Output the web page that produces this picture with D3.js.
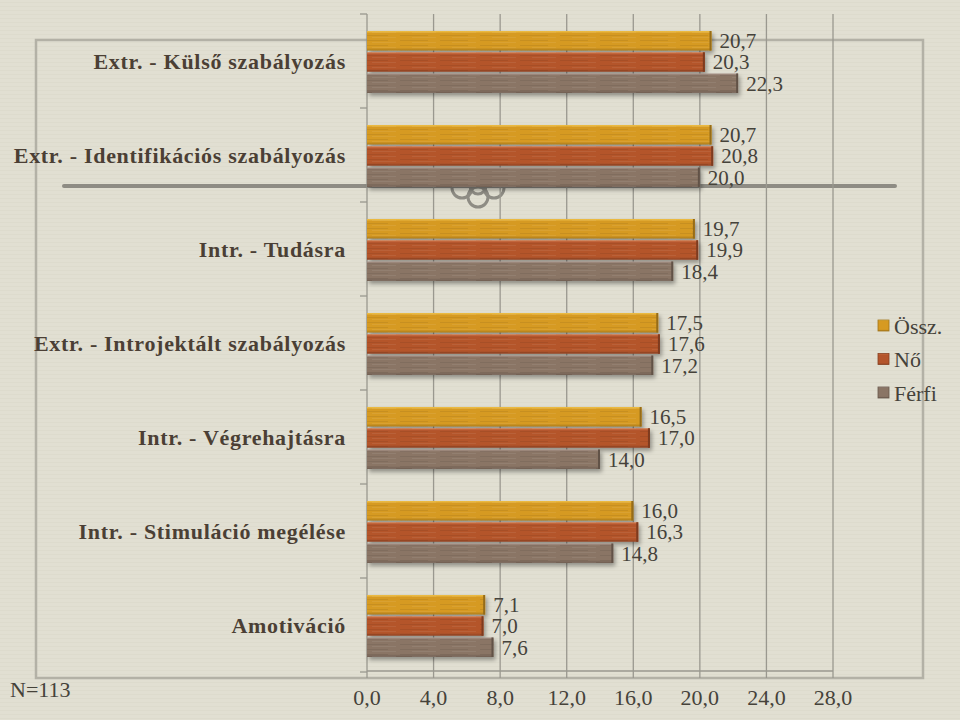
<!DOCTYPE html>
<html>
<head>
<meta charset="utf-8">
<script src="https://cdn.jsdelivr.net/npm/d3@7"></script>
<style>
  html, body { margin: 0; padding: 0; background: #e1dfd2; }
  svg { display: block; }
</style>
</head>
<body>
<svg id="chart" width="960" height="720"></svg>
<script>
// ---- Data ----
const categories = [
  "Extr. - Külső szabályozás",
  "Extr. - Identifikációs szabályozás",
  "Intr. - Tudásra",
  "Extr. - Introjektált szabályozás",
  "Intr. - Végrehajtásra",
  "Intr. - Stimuláció megélése",
  "Amotiváció"
];
const seriesNames = ["Össz.", "Nő", "Férfi"];
const osszValues  = [20.7, 20.7, 19.7, 17.5, 16.5, 16.0, 7.1];
const noValues    = [20.3, 20.8, 19.9, 17.6, 17.0, 16.3, 7.0];
const ferfiValues = [22.3, 20.0, 18.4, 17.2, 14.0, 14.8, 7.6];
const tickValues  = [0, 4, 8, 12, 16, 20, 24, 28];
const noteText = "N=113";

const seriesValues = [osszValues, noValues, ferfiValues];
const colors = ["#d69a22", "#b4552c", "#8a7565"];
const topColors = ["#f0c24a", "#d47a4c", "#a8948a"];
const FONT = '"Liberation Serif", "Times New Roman", serif';

const svg = d3.select("#chart");
const defs = svg.append("defs");

// background linen texture
const bgPat = defs.append("pattern").attr("id", "linen")
  .attr("width", 6).attr("height", 4).attr("patternUnits", "userSpaceOnUse");
bgPat.append("rect").attr("width", 6).attr("height", 4).attr("fill", "#e1dfd2");
bgPat.append("rect").attr("y", 2).attr("width", 6).attr("height", 1).attr("fill", "#dcdacb").attr("opacity", 0.7);
svg.append("rect").attr("width", 960).attr("height", 720).attr("fill", "url(#linen)");

// bar gradients
colors.forEach((c, i) => {
  const g = defs.append("linearGradient").attr("id", "grad" + i)
    .attr("x1", 0).attr("y1", 0).attr("x2", 0).attr("y2", 1);
  g.append("stop").attr("offset", "0%").attr("stop-color", topColors[i]);
  g.append("stop").attr("offset", "12%").attr("stop-color", c);
  g.append("stop").attr("offset", "85%").attr("stop-color", c);
  g.append("stop").attr("offset", "100%").attr("stop-color", d3.color(c).darker(0.6));
});
// streak texture
const streak = defs.append("pattern").attr("id", "streak")
  .attr("width", 40).attr("height", 5).attr("patternUnits", "userSpaceOnUse");
streak.append("rect").attr("x", 0).attr("y", 1).attr("width", 28).attr("height", 1).attr("fill", "#000").attr("opacity", 0.07);
streak.append("rect").attr("x", 12).attr("y", 3).attr("width", 24).attr("height", 1).attr("fill", "#fff").attr("opacity", 0.07);

const shadow = defs.append("filter").attr("id", "shadow")
  .attr("x", "-5%").attr("y", "-20%").attr("width", "115%").attr("height", "160%");
shadow.append("feDropShadow").attr("dx", 2).attr("dy", 3).attr("stdDeviation", 2)
  .attr("flood-color", "#000").attr("flood-opacity", 0.35);

// ---- Decorative frame ----
const frame = svg.append("g").attr("stroke", "#b3b1a6").attr("fill", "none");
frame.append("path").attr("d", "M36,678 L36,40 L923,40 L923,678 Z").attr("stroke-width", 2.5);
svg.append("line").attr("x1", 64).attr("x2", 895).attr("y1", 186).attr("y2", 186)
  .attr("stroke", "#8e8c84").attr("stroke-width", 4).attr("stroke-linecap", "round");
const orn = svg.append("g").attr("stroke", "#8e8c84").attr("fill", "none").attr("stroke-width", 3);
[[462, 188, 10], [478, 197, 10], [494, 188, 10], [478, 186, 8]].forEach(([cx, cy, r]) =>
  orn.append("circle").attr("cx", cx).attr("cy", cy).attr("r", r));

// ---- Scales ----
const x = d3.scaleLinear().domain([0, 28]).range([367, 833]);
const y0 = d3.scaleBand().domain(categories).range([14, 672]).padding(0);
const y1 = d3.scaleBand().domain(seriesNames).range([17, 79]).paddingInner(0.08);

// gridlines
svg.append("g").selectAll("line").data(tickValues.filter(d => d > 0)).join("line")
  .attr("x1", d => x(d)).attr("x2", d => x(d))
  .attr("y1", 14).attr("y2", 678)
  .attr("stroke", "#9a988f").attr("stroke-width", 1.3);

// axes lines
svg.append("line").attr("x1", x(0)).attr("x2", x(0)).attr("y1", 14).attr("y2", 678)
  .attr("stroke", "#9a988f").attr("stroke-width", 1.3);
svg.append("line").attr("x1", x(0)).attr("x2", x(28)).attr("y1", 671).attr("y2", 671)
  .attr("stroke", "#9a988f").attr("stroke-width", 1.3);
// category ticks
const bounds = categories.map(c => y0(c)).concat([y0.range()[1]]);
svg.append("g").selectAll("line").data(bounds).join("line")
  .attr("x1", x(0) - 7).attr("x2", x(0)).attr("y1", d => d).attr("y2", d => d)
  .attr("stroke", "#9a988f").attr("stroke-width", 1.3);

// ---- Bars ----
const groups = svg.append("g").selectAll("g").data(categories).join("g")
  .attr("transform", c => `translate(0,${y0(c)})`);

seriesNames.forEach((s, si) => {
  groups.append("rect")
    .attr("x", x(0))
    .attr("y", y1(s))
    .attr("width", (c, ci) => x(seriesValues[si][ci]) - x(0))
    .attr("height", y1.bandwidth())
    .attr("fill", `url(#grad${si})`)
    .attr("filter", "url(#shadow)");
  groups.append("rect")
    .attr("x", x(0))
    .attr("y", y1(s))
    .attr("width", (c, ci) => x(seriesValues[si][ci]) - x(0))
    .attr("height", y1.bandwidth())
    .attr("fill", "url(#streak)");
  groups.append("rect")
    .attr("x", (c, ci) => x(seriesValues[si][ci]) - 2)
    .attr("y", y1(s))
    .attr("width", 2)
    .attr("height", y1.bandwidth())
    .attr("fill", d3.color(colors[si]).darker(1));
});

// value labels
seriesNames.forEach((s, si) => {
  groups.append("text")
    .attr("x", (c, ci) => x(seriesValues[si][ci]) + 8)
    .attr("y", y1(s) + y1.bandwidth() / 2)
    .attr("dy", "0.35em")
    .style("font-family", FONT)
    .style("font-size", "21px")
    .attr("fill", "#45423a")
    .text((c, ci) => seriesValues[si][ci].toFixed(1).replace(".", ","));
});

// category labels
svg.append("g").selectAll("text").data(categories).join("text")
  .attr("x", 346)
  .attr("y", c => y0(c) + y0.bandwidth() / 2)
  .attr("dy", "0.35em")
  .attr("text-anchor", "end")
  .style("font-family", FONT)
  .style("font-weight", "bold")
  .style("font-size", "22px")
  .style("letter-spacing", "0.7px")
  .attr("fill", "#4b3f35")
  .text(c => c);

// x tick labels
svg.append("g").selectAll("text").data(tickValues).join("text")
  .attr("x", d => x(d))
  .attr("y", 705)
  .attr("text-anchor", "middle")
  .style("font-family", FONT)
  .style("font-size", "22px")
  .attr("fill", "#45423a")
  .text(d => d.toFixed(1).replace(".", ","));

// N note
svg.append("text").attr("x", 10).attr("y", 697)
  .style("font-family", FONT)
  .style("font-size", "22px").attr("fill", "#45423a").text(noteText);

// legend
const legend = svg.append("g").selectAll("g").data(seriesNames).join("g")
  .attr("transform", (d, i) => `translate(878,${326 + i * 33.5})`);
legend.append("rect").attr("x", 0).attr("y", -6).attr("width", 11).attr("height", 11)
  .attr("fill", (d, i) => `url(#grad${i})`).attr("stroke", (d, i) => d3.color(colors[i]).darker(0.8)).attr("stroke-width", 0.8);
legend.append("text").attr("x", 16).attr("y", 0).attr("dy", "0.35em")
  .style("font-family", FONT)
  .style("font-size", "22px").attr("fill", "#45423a").text(d => d);
</script>
</body>
</html>
